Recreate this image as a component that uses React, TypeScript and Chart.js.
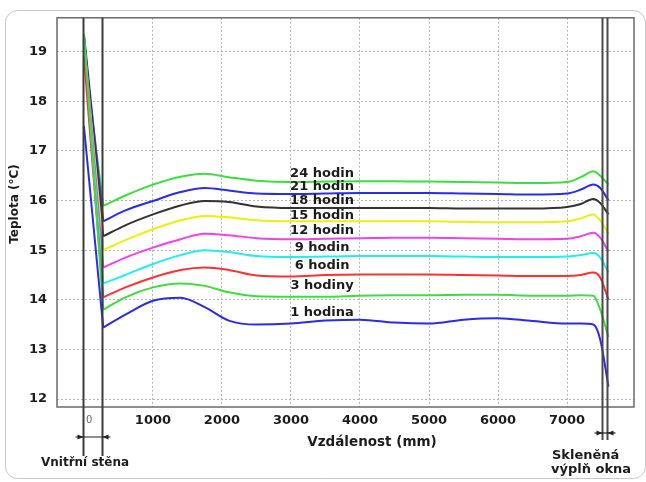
import React, { useEffect, useRef } from "react";
import { Chart, registerables } from "chart.js";

Chart.register(...registerables);

// distance along the section (mm) from the inner wall face onwards
const distances = [280, 600, 1000, 1400, 1750, 2100, 2500, 3000, 3500, 4000, 4500, 5000, 5500, 6000, 6500, 7000, 7200, 7380, 7480, 7600];
// surface temperature at the wall's interior face (x = 0) for each series
const wallFace = 0;
const startValues = [17.5, 19.35, 18.9, 19.2, 19.3, 19.2, 19.3, 19.35, 19.0];

const h1 = [13.44, 13.7, 13.98, 14.04, 13.85, 13.58, 13.5, 13.52, 13.58, 13.6, 13.54, 13.52, 13.6, 13.63, 13.57, 13.52, 13.52, 13.5, 13.2, 12.25];
const h3 = [13.8, 14.05, 14.25, 14.33, 14.28, 14.15, 14.07, 14.06, 14.06, 14.08, 14.09, 14.09, 14.1, 14.1, 14.08, 14.08, 14.09, 14.08, 13.8, 13.25];
const h6 = [14.05, 14.25, 14.45, 14.6, 14.65, 14.6, 14.49, 14.47, 14.5, 14.51, 14.51, 14.51, 14.5, 14.49, 14.48, 14.48, 14.5, 14.55, 14.45, 14.0];
const h9 = [14.33, 14.5, 14.72, 14.9, 15.0, 14.96, 14.88, 14.86, 14.87, 14.88, 14.88, 14.88, 14.87, 14.86, 14.86, 14.87, 14.9, 14.94, 14.85, 14.55];
const h12 = [14.65, 14.85, 15.05, 15.22, 15.33, 15.3, 15.24, 15.22, 15.23, 15.24, 15.25, 15.25, 15.24, 15.23, 15.22, 15.23, 15.28, 15.35, 15.25, 14.97];
const h15 = [15.0, 15.2, 15.42, 15.6, 15.69, 15.66, 15.6, 15.58, 15.58, 15.58, 15.58, 15.58, 15.57, 15.56, 15.56, 15.58, 15.64, 15.72, 15.6, 15.33];
const h18 = [15.28, 15.5, 15.72, 15.9, 15.99, 15.97, 15.88, 15.85, 15.85, 15.85, 15.85, 15.85, 15.84, 15.84, 15.84, 15.87, 15.93, 16.03, 15.95, 15.72];
const h21 = [15.58, 15.8, 15.99, 16.17, 16.25, 16.2, 16.14, 16.13, 16.14, 16.15, 16.15, 16.15, 16.14, 16.13, 16.12, 16.14, 16.22, 16.32, 16.25, 16.0];
const h24 = [15.89, 16.1, 16.32, 16.48, 16.54, 16.47, 16.4, 16.37, 16.38, 16.39, 16.39, 16.38, 16.37, 16.36, 16.35, 16.37, 16.47, 16.59, 16.5, 16.32];

const seriesNames = ["1 hodina", "3 hodiny", "6 hodin", "9 hodin", "12 hodin", "15 hodin", "18 hodin", "21 hodin", "24 hodin"];
const seriesValues = [h1, h3, h6, h9, h12, h15, h18, h21, h24];
const seriesColors = ["#2b2bee", "#3be03b", "#ff3030", "#22eeee", "#f040f0", "#eeee10", "#333333", "#2b2bee", "#3be03b"];

// in-plot labels (data coordinates)
const labelX = 3450;
const labelY = [13.75, 14.28, 14.68, 15.06, 15.4, 15.7, 15.99, 16.27, 16.54];

const xTicks = [0, 1000, 2000, 3000, 4000, 5000, 6000, 7000];
const yTicks = [12, 13, 14, 15, 16, 17, 18, 19];

const wallMarks = [0, 280];
const glassMarks = [7520, 7600];

const xTitle = "Vzdálenost (mm)";
const yTitle = "Teplota (°C)";
const wallText = "Vnitřní stěna";
const glassText = ["Skleněná", "výplň okna"];

const FONT = "'DejaVu Sans', sans-serif";

const overlay = {
  id: "overlay",
  beforeDraw(chart: any) {
    const ctx = chart.ctx;
    ctx.save();
    ctx.fillStyle = "#ffffff";
    ctx.fillRect(0, 0, chart.width, chart.height);
    ctx.strokeStyle = "#c8c8c8";
    ctx.lineWidth = 1;
    ctx.beginPath();
    ctx.roundRect(5.5, 10.5, 640, 468, 12);
    ctx.stroke();
    ctx.restore();
  },
  afterDatasetsDraw(chart: any) {
    const ctx = chart.ctx;
    const { left, top, right, bottom } = chart.chartArea;
    const xs = chart.scales.x;
    const ys = chart.scales.y;
    ctx.save();

    // plot frame
    ctx.strokeStyle = "#6a6a6a";
    ctx.lineWidth = 1.5;
    ctx.strokeRect(left, top, right - left, bottom - top);

    // series labels
    ctx.fillStyle = "#1c1c1c";
    ctx.font = `bold 13px ${FONT}`;
    ctx.textAlign = "center";
    ctx.textBaseline = "middle";
    seriesNames.forEach((n, i) => {
      ctx.fillText(n, xs.getPixelForValue(labelX), ys.getPixelForValue(labelY[i]));
    });

    // wall lines
    const wp = wallMarks.map((v) => Math.round(xs.getPixelForValue(v)) - 0.5);
    const gp = glassMarks.map((v) => Math.round(xs.getPixelForValue(v)) - 0.5);
    ctx.strokeStyle = "#3c3c3c";
    ctx.lineWidth = 2;
    wp.forEach((p) => {
      ctx.beginPath();
      ctx.moveTo(p, top);
      ctx.lineTo(p, 456);
      ctx.stroke();
    });
    ctx.strokeStyle = "#4a4a4a";
    gp.forEach((p) => {
      ctx.beginPath();
      ctx.moveTo(p, top);
      ctx.lineTo(p, 440);
      ctx.stroke();
    });

    // dimension arrows
    const arrow = (a: number, b: number, yy: number) => {
      ctx.strokeStyle = "#222";
      ctx.fillStyle = "#222";
      ctx.lineWidth = 1.2;
      ctx.beginPath();
      ctx.moveTo(a - 8, yy);
      ctx.lineTo(b + 8, yy);
      ctx.stroke();
      ctx.beginPath();
      ctx.moveTo(a, yy);
      ctx.lineTo(a - 6, yy - 2.5);
      ctx.lineTo(a - 6, yy + 2.5);
      ctx.closePath();
      ctx.fill();
      ctx.beginPath();
      ctx.moveTo(b, yy);
      ctx.lineTo(b + 6, yy - 2.5);
      ctx.lineTo(b + 6, yy + 2.5);
      ctx.closePath();
      ctx.fill();
    };
    arrow(wp[0], wp[1], 437);
    arrow(gp[0], gp[1], 433);

    // "0" tick label (small, beside the wall)
    ctx.fillStyle = "#666";
    ctx.font = `10px ${FONT}`;
    ctx.textAlign = "left";
    ctx.textBaseline = "middle";
    ctx.fillText("0", xs.getPixelForValue(0) + 2, 420);

    // annotations
    ctx.fillStyle = "#1c1c1c";
    ctx.font = `bold 12px ${FONT}`;
    ctx.textAlign = "center";
    ctx.fillText(wallText, 85, 463);
    ctx.font = `bold 13px ${FONT}`;
    ctx.textAlign = "left";
    ctx.fillText(glassText[0], 552, 456);
    ctx.fillText(glassText[1], 551, 470);

    // axis titles
    ctx.font = `bold 13.5px ${FONT}`;
    ctx.textAlign = "center";
    ctx.fillText(xTitle, 372, 442);
    ctx.save();
    ctx.translate(15, 204);
    ctx.rotate(-Math.PI / 2);
    ctx.font = `bold 12px ${FONT}`;
    ctx.fillText(yTitle, 0, 0);
    ctx.restore();

    ctx.restore();
  },
};

export default function App() {
  const ref = useRef<HTMLCanvasElement | null>(null);
  useEffect(() => {
    if (!ref.current) return;
    const dropSets = seriesNames.map((n, i) => ({
      label: n + " (stěna)",
      data: [
        { x: wallFace, y: startValues[i] },
        { x: distances[0], y: seriesValues[i][0] },
      ],
      borderColor: seriesColors[i],
      backgroundColor: seriesColors[i],
      borderWidth: 2,
      pointRadius: 0,
      tension: 0,
      fill: false,
    }));
    const mainSets = seriesNames.map((n, i) => ({
      label: n,
      data: distances.map((d, j) => ({ x: d, y: seriesValues[i][j] })),
      borderColor: seriesColors[i],
      backgroundColor: seriesColors[i],
      borderWidth: 2,
      pointRadius: 0,
      cubicInterpolationMode: "monotone" as const,
      fill: false,
    }));
    const chart = new Chart(ref.current, {
      type: "line",
      data: { datasets: [...dropSets, ...mainSets] },
      options: {
        responsive: false,
        animation: false,
        devicePixelRatio: 1,
        layout: { padding: { left: 0, top: 17, right: 12, bottom: 0 } },
        plugins: { legend: { display: false }, tooltip: { enabled: false } },
        scales: {
          x: {
            type: "linear",
            min: -390,
            max: 7970,
            afterFit: (s: any) => {
              s.height = 75;
            },
            afterBuildTicks: (s: any) => {
              s.ticks = xTicks.map((v) => ({ value: v }));
            },
            grid: { color: "#b4b4b4", lineWidth: 1, drawTicks: false },
            border: { display: false, dash: [2, 2] },
            ticks: {
              padding: 6,
              maxRotation: 0,
              autoSkip: false,
              color: "#1c1c1c",
              font: { family: FONT, size: 13, weight: "bold" },
              callback: (v: any) => (v === 0 ? "" : String(v)),
            },
          },
          y: {
            type: "linear",
            min: 11.84,
            max: 19.68,
            afterFit: (s: any) => {
              s.width = 57;
            },
            afterBuildTicks: (s: any) => {
              s.ticks = yTicks.map((v) => ({ value: v }));
            },
            grid: { color: "#b4b4b4", lineWidth: 1, drawTicks: false },
            border: { display: false, dash: [2, 2] },
            ticks: {
              padding: 10,
              autoSkip: false,
              color: "#1c1c1c",
              font: { family: FONT, size: 13, weight: "bold" },
              callback: (v: any) => String(v),
            },
          },
        },
      },
      plugins: [overlay],
    });
    return () => chart.destroy();
  }, []);
  return (
    <div style={{ position: "absolute", left: 0, top: 0, width: 646, height: 482 }}>
      <canvas ref={ref} width={646} height={482} style={{ display: "block" }} />
    </div>
  );
}
